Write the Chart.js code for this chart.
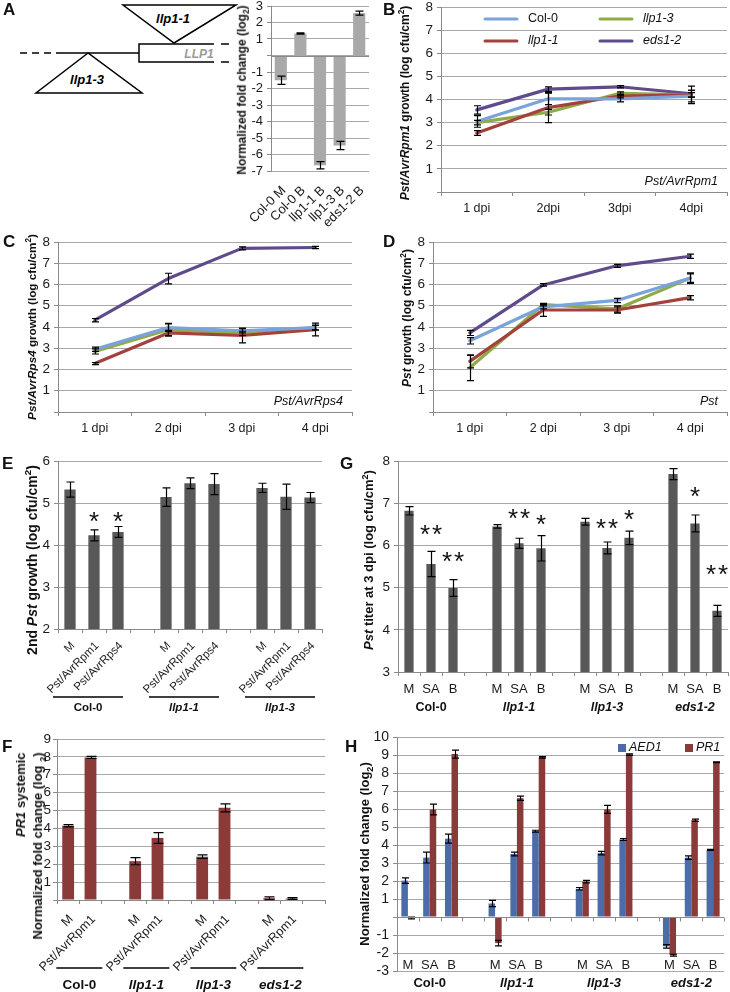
<!DOCTYPE html>
<html><head><meta charset="utf-8">
<script src="https://cdn.jsdelivr.net/npm/chart.js@4.4.1/dist/chart.umd.min.js"></script>
<style>
html,body{margin:0;padding:0;background:#fff;}
#wrap{position:relative;width:730px;height:992px;overflow:hidden;font-family:"Liberation Sans",Arial,Helvetica,sans-serif;color:#111;}
canvas{position:absolute;left:0;top:0;}
.ttl{position:absolute;white-space:nowrap;font-weight:bold;transform:translate(-50%,-50%) rotate(-90deg);line-height:1.2;}
.ttl sup,.ttl sub{font-size:70%;line-height:0;}
.let{position:absolute;font-weight:bold;font-size:17px;line-height:17px;}
</style></head><body><div id="wrap">
<svg width="245" height="110" style="position:absolute;left:0;top:0" font-family="Liberation Sans, Arial, sans-serif">
 <line x1="20" y1="53" x2="63" y2="53" stroke="#000" stroke-width="1.5" stroke-dasharray="7,5"/>
 <line x1="63" y1="53" x2="139" y2="53" stroke="#000" stroke-width="1.5"/>
 <polyline points="214,44 139,44 139,62 214,62" fill="none" stroke="#000" stroke-width="1.5"/>
 <line x1="221" y1="44" x2="229" y2="44" stroke="#000" stroke-width="1.5"/>
 <line x1="221" y1="62" x2="229" y2="62" stroke="#000" stroke-width="1.5"/>
 <text x="199" y="58" font-style="italic" font-weight="bold" fill="#9a9a9a" font-size="12" text-anchor="middle">LLP1</text>
 <polygon points="123,5 236,5 174,43" fill="#fff" stroke="#000" stroke-width="1.5"/>
 <text x="173" y="23" font-style="italic" font-weight="bold" font-size="13" text-anchor="middle">llp1-1</text>
 <polygon points="88,53 36,93 142,93" fill="#fff" stroke="#000" stroke-width="1.5"/>
 <text x="87" y="84" font-style="italic" font-weight="bold" font-size="13" text-anchor="middle">llp1-3</text>
</svg>
<canvas id="cA" width="730" height="992"></canvas>
<canvas id="cB" width="730" height="992"></canvas>
<canvas id="cC" width="730" height="992"></canvas>
<canvas id="cD" width="730" height="992"></canvas>
<canvas id="cE" width="730" height="992"></canvas>
<canvas id="cG" width="730" height="992"></canvas>
<canvas id="cF" width="730" height="992"></canvas>
<canvas id="cH" width="730" height="992"></canvas>

<div class="let" style="left:3px;top:1px">A</div>
<div class="let" style="left:383px;top:1px">B</div>
<div class="let" style="left:3px;top:233px">C</div>
<div class="let" style="left:383px;top:233px">D</div>
<div class="let" style="left:2px;top:455px">E</div>
<div class="let" style="left:340px;top:455px">G</div>
<div class="let" style="left:2px;top:738px">F</div>
<div class="let" style="left:345px;top:738px">H</div>

<div class="ttl" style="left:242px;top:90px;font-size:12px">Normalized fold change (log<sub>2</sub>)</div>
<div class="ttl" style="left:405px;top:103px;font-size:12px"><i>Pst/AvrRpm1</i> growth (log cfu/cm<sup>2</sup>)</div>
<div class="ttl" style="left:32px;top:327px;font-size:11.7px"><i>Pst/AvrRps4</i> growth (log cfu/cm<sup>2</sup>)</div>
<div class="ttl" style="left:407px;top:318px;font-size:12px"><i>Pst</i> growth (log cfu/cm<sup>2</sup>)</div>
<div class="ttl" style="left:32px;top:560px;font-size:14px">2nd <i>Pst</i> growth (log cfu/cm<sup>2</sup>)</div>
<div class="ttl" style="left:369px;top:560px;font-size:13px"><i>Pst</i> titer at 3 dpi (log cfu/cm<sup>2</sup>)</div>
<div class="ttl" style="left:29px;top:846px;font-size:13px;text-align:right;line-height:17px"><i>PR1</i> systemic<br>Normalized fold change (log <sub>2</sub>)</div>
<div class="ttl" style="left:365px;top:854px;font-size:13px">Normalized fold change (log<sub>2</sub>)</div>
</div>
<script>
// ---------------- DATA ----------------
// Panel A
const aCategories = ['Col-0 M', 'Col-0 B', 'llp1-1 B', 'llp1-3 B', 'eds1-2 B'];
const aValues = [-1.5, 1.33, -6.65, -5.45, 2.57];
const aErrors = [0.25, 0.04, 0.22, 0.25, 0.12];

// Panels B-D (line charts)
const lineSeries = ['Col-0', 'llp1-1', 'llp1-3', 'eds1-2'];
const bDays = ['1 dpi', '2dpi', '3dpi', '4dpi'];
const bCol0 = [3.05, 4.03, 4.03, 4.15];
const bCol0Err = [0.25, 0.25, 0.13, 0.25];
const bLlp11 = [2.55, 3.65, 4.15, 4.2];
const bLlp11Err = [0.1, 0.65, 0.08, 0.38];
const bLlp13 = [3.0, 3.45, 4.27, 4.2];
const bLlp13Err = [0.1, 0.12, 0.06, 0.1];
const bEds12 = [3.55, 4.45, 4.55, 4.25];
const bEds12Err = [0.18, 0.1, 0.05, 0.15];

const cdDays = ['1 dpi', '2 dpi', '3 dpi', '4 dpi'];
const cCol0 = [2.95, 3.97, 3.82, 3.97];
const cCol0Err = [0.1, 0.18, 0.1, 0.1];
const cLlp11 = [2.28, 3.72, 3.6, 3.88];
const cLlp11Err = [0.05, 0.12, 0.35, 0.3];
const cLlp13 = [2.85, 3.87, 3.7, 3.97];
const cLlp13Err = [0.12, 0.3, 0.1, 0.12];
const cEds12 = [4.32, 6.28, 7.7, 7.74];
const cEds12Err = [0.08, 0.25, 0.07, 0.05];

const dCol0 = [3.35, 4.95, 5.25, 6.3];
const dCol0Err = [0.15, 0.1, 0.1, 0.2];
const dLlp11 = [2.38, 4.8, 4.8, 5.38];
const dLlp11Err = [0.3, 0.3, 0.15, 0.1];
const dLlp13 = [2.08, 5.05, 4.85, 6.3];
const dLlp13Err = [0.6, 0.06, 0.15, 0.25];
const dEds12 = [3.72, 5.98, 6.88, 7.33];
const dEds12Err = [0.12, 0.06, 0.07, 0.1];

// Panel E
const eCategories = ['M', 'Pst/AvrRpm1', 'Pst/AvrRps4', '', 'M', 'Pst/AvrRpm1', 'Pst/AvrRps4', '', 'M', 'Pst/AvrRpm1', 'Pst/AvrRps4'];
const eValues = [5.32, 4.23, 4.31, null, 5.14, 5.47, 5.45, null, 5.36, 5.15, 5.13];
const eErrors = [0.18, 0.13, 0.13, null, 0.22, 0.13, 0.25, null, 0.11, 0.3, 0.12];
const eStars = ['', '*', '*', '', '', '', '', '', '', '', ''];
const eStarLevel = [null, 4.71, 4.71, null, null, null, null, null, null, null, null];
const eGroups = ['Col-0', 'llp1-1', 'llp1-3'];

// Panel G
const gCategories = ['M', 'SA', 'B', '', 'M', 'SA', 'B', '', 'M', 'SA', 'B', '', 'M', 'SA', 'B'];
const gValues = [6.82, 5.56, 4.99, null, 6.45, 6.05, 5.93, null, 6.56, 5.94, 6.18, null, 7.69, 6.52, 4.45];
const gErrors = [0.1, 0.3, 0.2, null, 0.04, 0.12, 0.3, null, 0.08, 0.14, 0.16, null, 0.13, 0.2, 0.13];
const gStars = ['', '**', '**', '', '', '**', '*', '', '', '**', '*', '', '', '*', '**'];
const gStarLevel = [null, 6.41, 5.77, null, null, 6.8, 6.65, null, null, 6.56, 6.77, null, null, 7.31, 5.46];
const genotypes = ['Col-0', 'llp1-1', 'llp1-3', 'eds1-2'];

// Panel F
const fCategories = ['M', 'Pst/AvrRpm1', '', 'M', 'Pst/AvrRpm1', '', 'M', 'Pst/AvrRpm1', '', 'M', 'Pst/AvrRpm1', ''];
const fValues = [4.15, 7.97, null, 2.17, 3.47, null, 2.42, 5.15, null, 0.1, 0.08, null];
const fErrors = [0.06, 0.06, null, 0.2, 0.3, null, 0.1, 0.22, null, 0.08, 0.05, null];

// Panel H
const hCategories = ['M', 'SA', 'B', '', 'M', 'SA', 'B', '', 'M', 'SA', 'B', '', 'M', 'SA', 'B'];
const hSeries = ['AED1', 'PR1'];
const hAED1 = [2.02, 3.3, 4.35, null, 0.75, 3.5, 4.77, null, 1.57, 3.55, 4.3, null, -1.63, 3.3, 3.73];
const hAED1Err = [0.15, 0.3, 0.25, null, 0.17, 0.1, 0.05, null, 0.07, 0.1, 0.05, null, 0.1, 0.1, 0.03];
const hPR1 = [-0.05, 5.97, 9.05, null, -1.45, 6.6, 8.87, null, 1.97, 5.98, 9.02, null, -2.12, 5.38, 8.6];
const hPR1Err = [0.05, 0.3, 0.22, null, 0.15, 0.12, 0.04, null, 0.07, 0.22, 0.04, null, 0.05, 0.06, 0.02];

// ---------------- STYLE ----------------
const FONT = '"Liberation Sans", Arial, Helvetica, sans-serif';
Chart.defaults.font.family = FONT;
Chart.defaults.color = '#1a1a1a';
Chart.defaults.animation = false;
Chart.defaults.responsive = false;
Chart.defaults.plugins.legend.display = false;
Chart.defaults.plugins.tooltip.enabled = false;

const GRID = '#a8a8a8', AXIS = '#8a8a8a';
const lineColors = ['#79a3da', '#a3413c', '#8eab45', '#5f4b8b'];
const YW = 50;

function isItalicName(n) { return /^(llp|eds)/.test(n); }
function merge(a, b) {
  const out = Array.isArray(a) ? a.slice() : Object.assign({}, a);
  for (const k in b) {
    if (b[k] && typeof b[k] === 'object' && !Array.isArray(b[k]) && a[k] && typeof a[k] === 'object') out[k] = merge(a[k], b[k]);
    else out[k] = b[k];
  }
  return out;
}
function frame(l, t, r, b, xh) { return {left: l - YW, right: 730 - r, top: t, bottom: 992 - b - xh}; }
function yScale(min, max, size, hideZero, pad) {
  return {
    type: 'linear', min: min, max: max,
    ticks: {stepSize: 1, font: {size: size, lineHeight: 1}, padding: pad == null ? 4 : pad, color: '#1a1a1a', maxTicksLimit: 30,
      callback: function (v) { return (hideZero && v === 0) ? '' : String(v); }},
    grid: {color: GRID, tickColor: AXIS, tickLength: 4, lineWidth: 1},
    border: {color: AXIS, width: 1},
    afterFit: function (s) { s.width = YW; s.paddingTop = 0; s.paddingBottom = 0; }
  };
}
function xScale(size, rot, pad, xh) {
  return {
    type: 'category', offset: true,
    grid: {offset: true, drawOnChartArea: false, color: AXIS, tickLength: 4},
    border: {color: AXIS, width: 1},
    ticks: {autoSkip: false, minRotation: rot, maxRotation: rot, font: {size: size}, padding: pad, color: '#1a1a1a'},
    afterFit: function (s) { s.height = xh; s.paddingLeft = 0; s.paddingRight = 0; }
  };
}

// ---------------- PLUGINS ----------------
const errorBars = {
  id: 'errorBars',
  afterDatasetsDraw(chart) {
    const ctx = chart.ctx, ys = chart.scales.y;
    chart.data.datasets.forEach((ds, di) => {
      if (!ds.errors) return;
      const meta = chart.getDatasetMeta(di);
      ctx.save();
      ctx.strokeStyle = '#000'; ctx.lineWidth = 1.2;
      meta.data.forEach((el, i) => {
        const v = ds.data[i], e = ds.errors[i];
        if (v == null || e == null) return;
        const x = Math.round(el.x) + 0.5;
        const y1 = ys.getPixelForValue(v + e), y2 = ys.getPixelForValue(v - e);
        const c = ds.cap || 3.5;
        ctx.beginPath();
        ctx.moveTo(x, y1); ctx.lineTo(x, y2);
        ctx.moveTo(x - c, y1); ctx.lineTo(x + c, y1);
        ctx.moveTo(x - c, y2); ctx.lineTo(x + c, y2);
        ctx.stroke();
      });
      ctx.restore();
    });
  }
};
const stars = {
  id: 'stars',
  afterDatasetsDraw(chart, args, o) {
    if (!o || !o.enabled) return;
    const ctx = chart.ctx, xs = chart.scales.x, ys = chart.scales.y;
    ctx.save();
    ctx.fillStyle = '#111';
    ctx.font = o.size + 'px ' + FONT;
    ctx.textAlign = 'center'; ctx.textBaseline = 'alphabetic';
    for (let i = 0; i < o.labels.length; i++) {
      const s = o.labels[i];
      if (!s) continue;
      const cx = xs.getPixelForValue(i), cy = ys.getPixelForValue(o.levels[i]) + o.size * 0.58;
      const n = s.length;
      for (let k = 0; k < n; k++) ctx.fillText('*', cx + (k - (n - 1) / 2) * o.spacing, cy);
    }
    ctx.restore();
  }
};
const groups = {
  id: 'groups',
  afterDraw(chart, args, o) {
    if (!o || !o.enabled) return;
    const ctx = chart.ctx, xs = chart.scales.x, ca = chart.chartArea;
    ctx.save();
    for (let k = 0; k < o.names.length; k++) {
      const n = o.names[k];
      const x = xs.getPixelForValue(o.centers[k]) + (o.dx || 0);
      if (o.underlineW) {
        ctx.strokeStyle = '#000'; ctx.lineWidth = 1.3;
        ctx.beginPath();
        ctx.moveTo(x - o.underlineW / 2, ca.bottom + o.underlineY);
        ctx.lineTo(x + o.underlineW / 2, ca.bottom + o.underlineY);
        ctx.stroke();
      }
      ctx.fillStyle = '#111';
      ctx.font = (isItalicName(n) ? 'italic ' : '') + 'bold ' + o.size + 'px ' + FONT;
      ctx.textAlign = 'center'; ctx.textBaseline = 'middle';
      ctx.fillText(n, x, ca.bottom + o.labelY);
    }
    ctx.restore();
  }
};
const innerLabels = {
  id: 'innerLabels',
  afterDraw(chart, args, o) {
    if (!o || !o.enabled) return;
    const ctx = chart.ctx, xs = chart.scales.x, ca = chart.chartArea;
    ctx.save();
    ctx.fillStyle = '#1a1a1a';
    ctx.font = o.size + 'px ' + FONT;
    ctx.textAlign = 'center'; ctx.textBaseline = 'middle';
    chart.data.labels.forEach((lab, i) => {
      if (lab) ctx.fillText(lab, xs.getPixelForValue(i), ca.bottom + o.dy);
    });
    ctx.restore();
  }
};
const zeroLine = {
  id: 'zeroLine',
  afterDatasetsDraw(chart, args, o) {
    if (!o || !o.enabled) return;
    const ctx = chart.ctx, xs = chart.scales.x, ys = chart.scales.y, ca = chart.chartArea;
    const y = Math.round(ys.getPixelForValue(0)) + 0.5;
    ctx.save();
    ctx.strokeStyle = AXIS; ctx.lineWidth = 1;
    ctx.beginPath(); ctx.moveTo(ca.left, y); ctx.lineTo(ca.right, y);
    if (o.ticks) {
      for (let i = 0; i <= chart.data.labels.length; i++) {
        const x = Math.round(xs.getPixelForValue(i - 0.5)) + 0.5;
        ctx.moveTo(x, y); ctx.lineTo(x, y + 4);
      }
    }
    ctx.stroke();
    ctx.restore();
  }
};
const note = {
  id: 'note',
  afterDraw(chart, args, o) {
    if (!o || !o.text) return;
    const ctx = chart.ctx, ca = chart.chartArea;
    ctx.save();
    ctx.fillStyle = '#111';
    ctx.font = 'italic ' + o.size + 'px ' + FONT;
    ctx.textAlign = 'right'; ctx.textBaseline = 'middle';
    ctx.fillText(o.text, ca.right - o.dx, ca.bottom - o.dy);
    ctx.restore();
  }
};
const lineLegend = {
  id: 'lineLegend',
  afterDraw(chart, args, o) {
    if (!o || !o.enabled) return;
    const ctx = chart.ctx, ca = chart.chartArea;
    chart.data.datasets.forEach((ds, i) => {
      const col = Math.floor(i / 2), row = i % 2;
      const x0 = ca.left + o.x0 + col * o.colW, y = ca.top + o.y0 + row * o.rowH;
      ctx.save();
      ctx.strokeStyle = ds.borderColor; ctx.lineWidth = 3; ctx.lineCap = 'round';
      ctx.beginPath(); ctx.moveTo(x0, y); ctx.lineTo(x0 + o.lineW, y); ctx.stroke();
      ctx.fillStyle = '#111';
      ctx.font = (isItalicName(ds.label) ? 'italic ' : '') + o.size + 'px ' + FONT;
      ctx.textAlign = 'left'; ctx.textBaseline = 'middle';
      ctx.fillText(ds.label, x0 + o.lineW + o.gap, y);
      ctx.restore();
    });
  }
};
const boxLegend = {
  id: 'boxLegend',
  afterDraw(chart, args, o) {
    if (!o || !o.enabled) return;
    const ctx = chart.ctx, ca = chart.chartArea;
    chart.data.datasets.forEach((ds, i) => {
      const x = ca.right - o.offsets[i], y = ca.top + o.dy;
      ctx.save();
      ctx.fillStyle = ds.backgroundColor;
      ctx.fillRect(x, y - o.box / 2, o.box, o.box);
      ctx.fillStyle = '#111';
      ctx.font = 'italic ' + o.size + 'px ' + FONT;
      ctx.textAlign = 'left'; ctx.textBaseline = 'middle';
      ctx.fillText(ds.label, x + o.box + 3, y);
      ctx.restore();
    });
  }
};
Chart.register(errorBars, stars, groups, innerLabels, zeroLine, note, lineLegend, boxLegend);

// ---------------- CHARTS ----------------
// A
new Chart(document.getElementById('cA'), {
  type: 'bar',
  data: {labels: aCategories, datasets: [{data: aValues, errors: aErrors, cap: 4, backgroundColor: '#a9a9a9', barPercentage: 0.62, categoryPercentage: 1}]},
  options: {
    layout: {padding: frame(271, 6, 369, 171, 80)},
    scales: {
      y: yScale(-7, 3, 13, true),
      x: merge(xScale(13, 45, 12, 80), {grid: {display: false, drawTicks: false}, border: {display: false}, ticks: {labelOffset: 3}})
    },
    plugins: {zeroLine: {enabled: true, ticks: false}}
  }
});

function lineChart(id, labels, seriesData, seriesErr, fr, xLabelSize, noteText, legend) {
  return new Chart(document.getElementById(id), {
    type: 'line',
    data: {
      labels: labels,
      datasets: lineSeries.map((name, i) => ({
        label: name, data: seriesData[i], errors: seriesErr[i], cap: 3.5,
        borderColor: lineColors[i], backgroundColor: lineColors[i], borderWidth: 3.2,
        pointRadius: 0, tension: 0, borderJoinStyle: 'round', borderCapStyle: 'round', fill: false
      }))
    },
    options: {
      layout: {padding: fr},
      scales: {y: yScale(0, 8, 13.5, true), x: xScale(xLabelSize, 0, 5, 40)},
      plugins: {
        note: {text: noteText, size: 12.5, dx: 9, dy: 10},
        lineLegend: legend ? {enabled: true, x0: 44, y0: 12, colW: 115, rowH: 22, lineW: 32, gap: 11, size: 12.5} : {enabled: false}
      }
    }
  });
}
lineChart('cB', bDays, [bCol0, bLlp11, bLlp13, bEds12], [bCol0Err, bLlp11Err, bLlp13Err, bEds12Err], frame(441, 7, 727, 192, 40), 12.5, 'Pst/AvrRpm1', true);
lineChart('cC', cdDays, [cCol0, cLlp11, cLlp13, cEds12], [cCol0Err, cLlp11Err, cLlp13Err, cEds12Err], frame(58, 242, 352, 412, 40), 12.5, 'Pst/AvrRps4', false);
lineChart('cD', cdDays, [dCol0, dLlp11, dLlp13, dEds12], [dCol0Err, dLlp11Err, dLlp13Err, dEds12Err], frame(433, 242, 727, 412, 40), 12.5, 'Pst', false);

// E
new Chart(document.getElementById('cE'), {
  type: 'bar',
  data: {labels: eCategories, datasets: [{data: eValues, errors: eErrors, cap: 4, backgroundColor: '#585858', barPercentage: 0.47, categoryPercentage: 1}]},
  options: {
    layout: {padding: frame(58, 461, 322, 629, 80)},
    scales: {y: yScale(2, 6, 13.5, false), x: merge(xScale(11.5, 45, 6, 80), {ticks: {labelOffset: 3}})},
    plugins: {
      stars: {enabled: true, labels: eStars, levels: eStarLevel, size: 26, spacing: 12},
      groups: {enabled: true, names: eGroups, centers: [1, 5, 9], dx: -6, underlineY: 68, underlineW: 70, labelY: 79, size: 11.5}
    }
  }
});

// G
new Chart(document.getElementById('cG'), {
  type: 'bar',
  data: {labels: gCategories, datasets: [{data: gValues, errors: gErrors, cap: 4, backgroundColor: '#585858', barPercentage: 0.42, categoryPercentage: 1}]},
  options: {
    layout: {padding: frame(398, 461, 728, 672, 40)},
    scales: {y: yScale(3, 8, 13.5, false), x: xScale(13, 0, 6, 40)},
    plugins: {
      stars: {enabled: true, labels: gStars, levels: gStarLevel, size: 26, spacing: 12},
      groups: {enabled: true, names: genotypes, centers: [1, 5, 9, 13], dx: 0, underlineW: 0, labelY: 36, size: 12.5}
    }
  }
});

// F
new Chart(document.getElementById('cF'), {
  type: 'bar',
  data: {labels: fCategories, datasets: [{data: fValues, errors: fErrors, cap: 5, backgroundColor: '#8b3a3a', barPercentage: 0.53, categoryPercentage: 1}]},
  options: {
    layout: {padding: frame(57, 739, 325, 900, 80)},
    scales: {y: yScale(0, 9, 13.5, true, 2), x: merge(xScale(12.5, 45, 8, 80), {ticks: {labelOffset: 3}})},
    plugins: {
      groups: {enabled: true, names: genotypes, centers: [0.5, 3.5, 6.5, 9.5], dx: 0, underlineY: 68, underlineW: 46, labelY: 85, size: 13.5}
    }
  }
});

// H
new Chart(document.getElementById('cH'), {
  type: 'bar',
  data: {labels: hCategories, datasets: [
    {label: hSeries[0], data: hAED1, errors: hAED1Err, cap: 3.5, backgroundColor: '#4a6ca8', barPercentage: 1, categoryPercentage: 0.6},
    {label: hSeries[1], data: hPR1, errors: hPR1Err, cap: 3.5, backgroundColor: '#8b3a3a', barPercentage: 1, categoryPercentage: 0.6}
  ]},
  options: {
    layout: {padding: frame(397, 737, 724, 971, 10)},
    scales: {
      y: yScale(-3, 10, 14, true),
      x: merge(xScale(13, 0, 0, 10), {grid: {display: false, drawTicks: false}, border: {display: false}, ticks: {display: false}})
    },
    plugins: {
      zeroLine: {enabled: true, ticks: true},
      innerLabels: {enabled: true, dy: -6, size: 13},
      groups: {enabled: true, names: genotypes, centers: [1, 5, 9, 13], dx: 0, underlineW: 0, labelY: 12, size: 13},
      boxLegend: {enabled: true, offsets: [106, 39], dy: 11, box: 8, size: 12.5}
    }
  }
});
</script>
</body></html>
